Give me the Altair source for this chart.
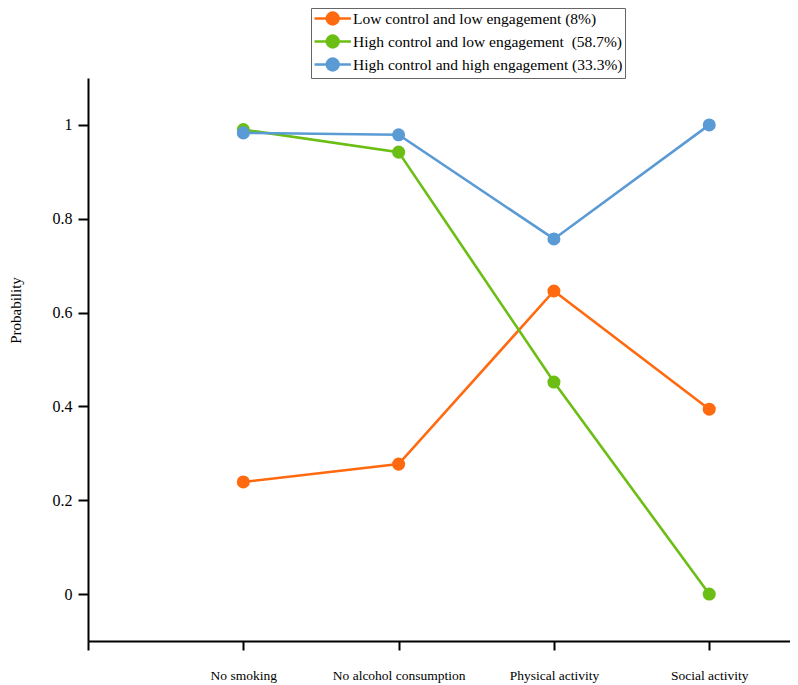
import altair as alt
import pandas as pd

categories = ["No smoking", "No alcohol consumption", "Physical activity", "Social activity"]
series = [
    "Low control and low engagement (8%)",
    "High control and low engagement\u00a0 (58.7%)",
    "High control and high engagement (33.3%)",
]
low_low = [0.239, 0.277, 0.646, 0.394]
high_low = [0.990, 0.942, 0.452, 0.0]
high_high = [0.983, 0.979, 0.757, 1.0]
colors = ["#FF6A10", "#6BBE14", "#5B9BD5"]

rows = []
for name, vals in zip(series, [low_low, high_low, high_high]):
    for i, (c, v) in enumerate(zip(categories, vals)):
        rows.append({"series": name, "idx": i + 1, "category": c, "value": v})
df = pd.DataFrame(rows)

label_expr = "[''," + ",".join("'" + c + "'" for c in categories) + "][datum.value]"

x = alt.X("idx:Q", scale=alt.Scale(domain=[0, 4.52], nice=False, zero=False),
          axis=alt.Axis(values=[0, 1, 2, 3, 4], labelExpr=label_expr, title=None,
                        grid=False, domainColor="black", domainWidth=2, tickColor="black",
                        tickWidth=2, tickSize=9, labelFont="Liberation Serif", labelFontSize=13.5,
                        labelColor="black", labelPadding=18))
y = alt.Y("value:Q", scale=alt.Scale(domain=[-0.1, 1.1], nice=False),
          axis=alt.Axis(values=[0, 0.2, 0.4, 0.6, 0.8, 1], format=".1~f", title="Probability",
                        grid=False, domainColor="black", domainWidth=2, tickColor="black",
                        tickWidth=2, tickSize=10, labelFont="Liberation Serif", labelFontSize=16,
                        labelColor="black", labelPadding=6, titleFont="Liberation Serif",
                        titleFontSize=15, titleFontWeight="normal", titleColor="black",
                        titleBaseline="middle", titleY=232, titleX=-73))
symbol_path = ("M-1,0L4.2,0M0.75,0A0.85,0.85,0,1,1,2.45,0A0.85,0.85,0,1,1,0.75,0")
color = alt.Color("series:N", scale=alt.Scale(domain=series, range=colors),
                  legend=alt.Legend(title=None, orient="none", legendX=223, legendY=-70,
                                    direction="vertical", symbolType=symbol_path,
                                    symbolSize=196, symbolStrokeWidth=2.5,
                                    symbolOpacity=1, labelFont="Liberation Serif",
                                    labelFontSize=15.5, labelColor="black", labelLimit=0,
                                    strokeColor="#666666", padding=2, rowPadding=0,
                                    labelOffset=23, fillColor="white"))

base = alt.Chart(df)
lines = base.mark_line(strokeWidth=2.6).encode(x=x, y=y, color=color, order="idx:Q")
points = base.mark_circle(size=170, opacity=1).encode(
    x=x, y=y,
    color=alt.Color("series:N", scale=alt.Scale(domain=series, range=colors), legend=None))

chart = alt.layer(lines, points).properties(
    width=702, height=563,
    autosize=alt.AutoSizeParams(type="none"),
    padding={"left": 80, "top": 70, "right": 0, "bottom": 44},
).configure(background="white").configure_view(strokeOpacity=0, strokeWidth=0)

chart.save("out.html", embed_options={"renderer": "svg", "actions": False})
